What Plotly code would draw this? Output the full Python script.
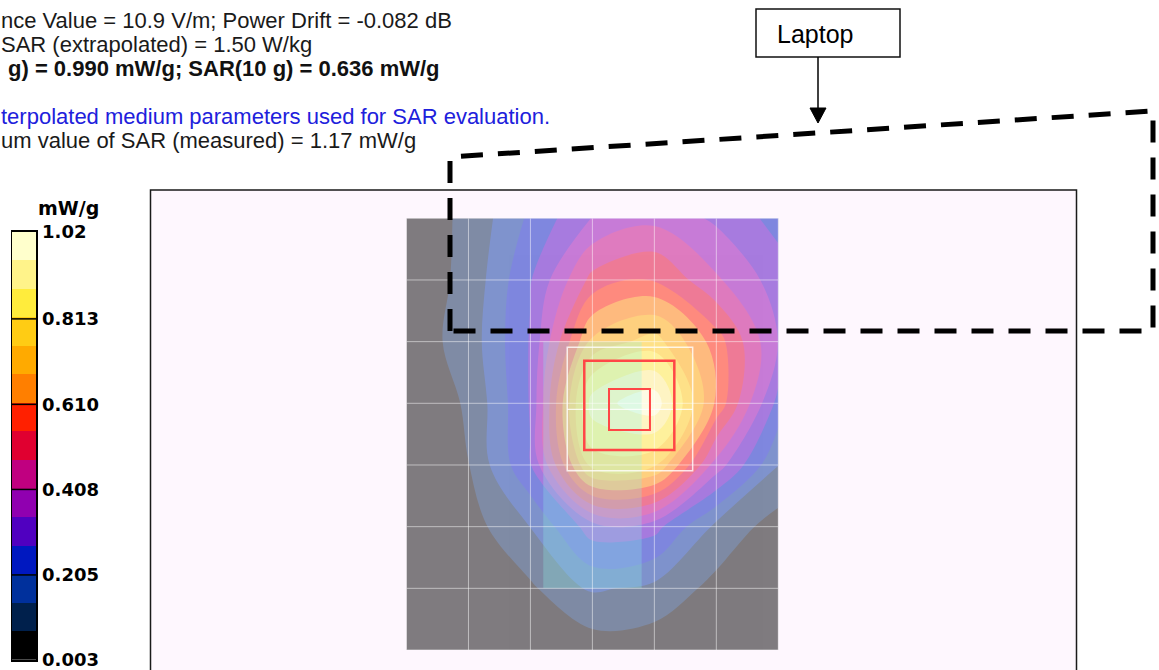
import plotly.graph_objects as go

# ---------------- data ----------------
grid_x = [0, 1, 2, 3, 4, 5, 6]
grid_y = [0, 1, 2, 3, 4, 5, 6, 7]

sar_row_0 = [0.03, 0.085, 0.22, 0.345, 0.39, 0.33, 0.25]
sar_row_1 = [0.03, 0.088, 0.27, 0.50, 0.55, 0.42, 0.31]
sar_row_2 = [0.03, 0.10, 0.28, 0.70, 0.78, 0.58, 0.34]
sar_row_3 = [0.03, 0.077, 0.28, 0.92, 1.00, 0.60, 0.25]
sar_row_4 = [0.02, 0.07, 0.27, 0.78, 0.76, 0.38, 0.14]
sar_row_5 = [0.02, 0.04, 0.14, 0.31, 0.30, 0.12, 0.04]
sar_row_6 = [0.01, 0.02, 0.06, 0.15, 0.12, 0.05, 0.03]
sar_row_7 = [0.01, 0.02, 0.03, 0.03, 0.03, 0.02, 0.02]
sar_rows = [sar_row_0, sar_row_1, sar_row_2, sar_row_3,
            sar_row_4, sar_row_5, sar_row_6, sar_row_7]

band_min = 0.003
band_max = 1.02
band_count = 15
band_colors = ["#000000", "#00204c", "#00309c", "#0018c0", "#5000c0",
               "#9000b0", "#c00080", "#e00030", "#ff2000", "#ff7f00",
               "#ffaa00", "#ffcc14", "#ffec3c", "#fff38a", "#ffffcc"]
colorbar_tick_values = [0.003, 0.205, 0.408, 0.610, 0.813, 1.02]
colorbar_tick_labels = ["0.003", "0.205", "0.408", "0.610", "0.813", "1.02"]
colorbar_unit = "mW/g"

header_lines = [
    "nce Value = 10.9 V/m; Power Drift = -0.082 dB",
    "SAR (extrapolated) = 1.50 W/kg",
    "g) = 0.990 mW/g; SAR(10 g) = 0.636 mW/g",
    "terpolated medium parameters used for SAR evaluation.",
    "um value of SAR (measured) = 1.17 mW/g",
]
header_bold = [False, False, True, False, False]
header_colors = ["#1a1a1a", "#1a1a1a", "#111111", "#2020dc", "#1a1a1a"]
laptop_label = "Laptop"

# ---------------- geometry (pixels) ----------------
W, H = 1159, 670
MAP_L, MAP_R, MAP_T, MAP_B = 406.5, 778.3, 218.3, 650.0
CB_L, CB_R, CB_T, CB_B = 12.0, 36.0, 231.7, 660.0
header_x = [0, 0, 7, 0, 0]
header_baseline = [27.7, 51.7, 76.0, 124.4, 148.6]
FONT = "Liberation Sans, Arial, sans-serif"
FS = 22

band_step = (band_max - band_min) / band_count

# stepwise colorscale for the filled contours (colour sampled at band midpoints)
n_levels = band_count + 1
contour_scale = [[0.0, band_colors[0]]]
for k in range(1, band_count):
    p = (k + 0.5) / n_levels
    contour_scale.append([p, band_colors[k - 1]])
    contour_scale.append([p, band_colors[k]])
contour_scale.append([1.0, band_colors[-1]])

# stepwise colorscale for the legend bar
bar_scale = []
for k, c in enumerate(band_colors):
    bar_scale.append([k / band_count, c])
    bar_scale.append([(k + 1) / band_count, c])
band_centers = [band_min + (k + 0.5) * band_step for k in range(band_count)]

fig = go.Figure()

# overlay pixel axes (for decorations)
fig.add_trace(go.Scatter(x=[], y=[], xaxis="x", yaxis="y", showlegend=False, hoverinfo="skip"))

fig.add_trace(go.Contour(
    x=grid_x, y=grid_y, z=sar_rows, xaxis="x2", yaxis="y2",
    autocontour=False,
    contours=dict(start=band_min, end=band_max, size=band_step,
                  coloring="fill", showlines=False),
    line=dict(width=0),
    colorscale=contour_scale, showscale=False, opacity=0.5,
    hoverinfo="skip",
))

fig.add_trace(go.Heatmap(
    x=[0], y=band_centers, z=[[k] for k in range(band_count)],
    xaxis="x3", yaxis="y3",
    colorscale=bar_scale, zmin=-0.5, zmax=band_count - 0.5,
    showscale=False, hoverinfo="skip",
))

shapes = []
# plot frame
shapes.append(dict(type="rect", xref="x", yref="y", x0=150.5, y0=190, x1=1076.5, y1=720,
                   fillcolor="#fef7fe", line=dict(color="#1a1a1a", width=1.5), layer="below"))
# zoom-scan tint stripe
shapes.append(dict(type="rect", xref="x2", yref="y2", x0=2.207, x1=3.795, y0=2.0, y1=6.0,
                   fillcolor="rgba(140,245,230,0.28)", line=dict(width=0), layer="above"))
# measurement grid
for gx in grid_x:
    shapes.append(dict(type="line", xref="x2", yref="y2", x0=gx, x1=gx, y0=grid_y[0], y1=grid_y[-1],
                       line=dict(color="rgba(255,255,255,0.5)", width=1), layer="above"))
for gy in grid_y:
    shapes.append(dict(type="line", xref="x2", yref="y2", x0=grid_x[0], x1=grid_x[-1], y0=gy, y1=gy,
                       line=dict(color="rgba(255,255,255,0.5)", width=1), layer="above"))
# zoom scan box
shapes.append(dict(type="rect", xref="x2", yref="y2", x0=2.594, x1=4.618, y0=2.092, y1=4.093,
                   line=dict(color="rgba(255,255,255,0.8)", width=1.5), layer="above"))
shapes.append(dict(type="line", xref="x2", yref="y2", x0=2.594, x1=4.618, y0=3.097, y1=3.097,
                   line=dict(color="rgba(255,255,255,0.8)", width=1.2), layer="above"))
# 10 g / 1 g cubes
shapes.append(dict(type="rect", xref="x2", yref="y2", x0=2.869, x1=4.322, y0=2.309, y1=3.757,
                   line=dict(color="#ff4646", width=2.5), layer="above"))
shapes.append(dict(type="rect", xref="x2", yref="y2", x0=3.268, x1=3.929, y0=2.768, y1=3.433,
                   line=dict(color="#ff4646", width=2), layer="above"))
# laptop outline (dashed)
shapes.append(dict(type="path", xref="x", yref="y",
                   path="M 450 331 L 450 157 L 1153 111 L 1153 331 Z",
                   line=dict(color="#000000", width=5, dash="22px,15px"), layer="above"))
# laptop label box and arrow
shapes.append(dict(type="rect", xref="x", yref="y", x0=756, y0=9, x1=900, y1=57,
                   fillcolor="#ffffff", line=dict(color="#111111", width=1.5), layer="above"))
shapes.append(dict(type="line", xref="x", yref="y", x0=818, y0=57, x1=818, y1=110,
                   line=dict(color="#000000", width=1.5), layer="above"))
shapes.append(dict(type="path", xref="x", yref="y", path="M 810 108 L 826 108 L 818 123 Z",
                   fillcolor="#000000", line=dict(color="#000000", width=1), layer="above"))
# colour bar separators
for v in colorbar_tick_values[1:-1]:
    shapes.append(dict(type="line", xref="x3 domain", yref="y3", x0=0, x1=1, y0=v, y1=v,
                       line=dict(color="#000000", width=1.5), layer="above"))

annotations = []
for txt, xx, base, bold, col in zip(header_lines, header_x, header_baseline, header_bold, header_colors):
    annotations.append(dict(
        xref="x", yref="y", x=xx, y=base - 0.3465 * FS, text=txt, showarrow=False,
        xanchor="left", yanchor="middle", borderpad=0,
        font=dict(family=FONT, size=FS, color=col, weight="bold" if bold else "normal"),
    ))
annotations.append(dict(
    xref="x", yref="y", x=776, y=43 - 0.3465 * 25, text=laptop_label, showarrow=False,
    xanchor="left", yanchor="middle", borderpad=0,
    font=dict(family=FONT, size=25, color="#000000"),
))
annotations.append(dict(
    xref="x", yref="y", x=37, y=208, text=colorbar_unit, showarrow=False,
    xanchor="left", yanchor="middle", borderpad=0,
    font=dict(family="DejaVu Sans", size=19, color="#000000", weight="bold"),
))

fig.update_layout(
    width=W, height=H,
    margin=dict(l=0, r=0, t=0, b=0, pad=0, autoexpand=False),
    paper_bgcolor="#ffffff",
    plot_bgcolor="rgba(0,0,0,0)",
    showlegend=False,
    shapes=shapes,
    annotations=annotations,
    xaxis=dict(domain=[0, 1], range=[0, W], visible=False, fixedrange=True),
    yaxis=dict(domain=[0, 1], range=[H, 0], visible=False, fixedrange=True),
    xaxis2=dict(domain=[MAP_L / W, MAP_R / W], range=[grid_x[0], grid_x[-1]], anchor="y2",
                visible=False, fixedrange=True),
    yaxis2=dict(domain=[(H - MAP_B) / H, (H - MAP_T) / H], range=[grid_y[-1], grid_y[0]], anchor="x2",
                visible=False, fixedrange=True),
    xaxis3=dict(domain=[CB_L / W, CB_R / W], range=[-0.5, 0.5], anchor="y3",
                showline=True, mirror=True, linecolor="#000000", linewidth=1.5,
                showticklabels=False, ticks="", showgrid=False, zeroline=False, fixedrange=True,
                automargin=False),
    yaxis3=dict(domain=[(H - CB_B) / H, (H - CB_T) / H], range=[band_min, band_max], anchor="x3",
                side="right", showline=True, mirror=True, linecolor="#000000", linewidth=1.5,
                tickvals=colorbar_tick_values, ticktext=colorbar_tick_labels,
                ticks="", ticklabelstandoff=1, ticklabeloverflow="allow", automargin=False,
                showgrid=False, zeroline=False, fixedrange=True,
                tickfont=dict(family="DejaVu Sans", size=18, color="#000000", weight="bold")),
)

fig.write_html("out.html", config={"displayModeBar": False, "staticPlot": True},
               post_script="document.body.style.margin='0px';document.body.style.padding='0px';"
                           "document.body.style.overflow='hidden';"
                           "var gd=document.getElementById('{plot_id}');"
                           "gd.style.position='fixed';gd.style.top='0px';gd.style.left='0px';")
